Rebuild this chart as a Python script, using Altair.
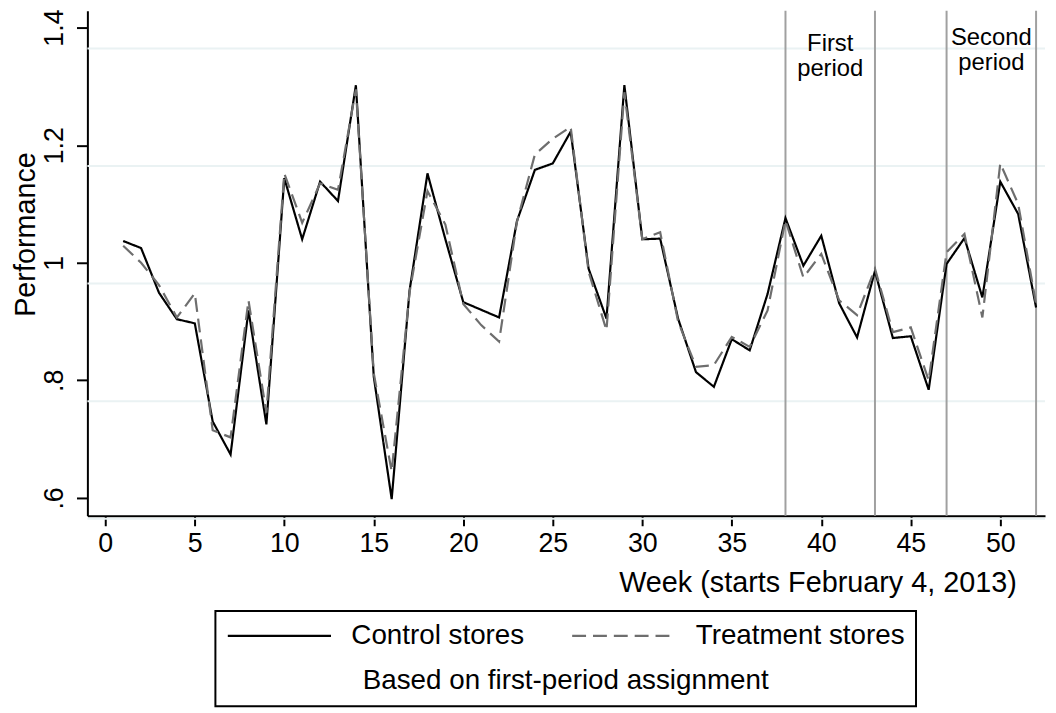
import altair as alt
import pandas as pd

weeks = list(range(1, 53))
control = [1.037, 1.025, 0.949, 0.904, 0.897, 0.730, 0.674, 0.919, 0.725, 1.144,
           1.040, 1.138, 1.105, 1.302, 0.806, 0.598, 0.953, 1.152, 1.040, 0.933,
           0.920, 0.907, 1.071, 1.158, 1.169, 1.223, 0.990, 0.905, 1.302, 1.040,
           1.041, 0.905, 0.814, 0.789, 0.870, 0.851, 0.947, 1.076, 0.995, 1.046,
           0.931, 0.873, 0.986, 0.872, 0.875, 0.784, 0.998, 1.042, 0.941, 1.138,
           1.083, 0.924]
treatment = [1.029, 1.000, 0.962, 0.907, 0.948, 0.715, 0.703, 0.936, 0.745, 1.152,
             1.068, 1.135, 1.124, 1.295, 0.812, 0.645, 0.950, 1.122, 1.065, 0.930,
             0.894, 0.866, 1.070, 1.184, 1.211, 1.231, 0.985, 0.885, 1.290, 1.040,
             1.052, 0.900, 0.823, 0.826, 0.874, 0.857, 0.919, 1.072, 0.975, 1.015,
             0.936, 0.911, 0.990, 0.882, 0.890, 0.800, 1.018, 1.049, 0.907, 1.169,
             1.100, 0.930]
series_names = ["Control stores", "Treatment stores"]
x_ticks = [0, 5, 10, 15, 20, 25, 30, 35, 40, 45, 50]
y_ticks = [0.6, 0.8, 1.0, 1.2, 1.4]
y_tick_labels = [".6", ".8", "1", "1.2", "1.4"]
grid_values = [1.3646, 1.1646, 0.9646, 0.7646, 0.5646]
period_bounds = [38, 43, 47, 52]
period_label_x = [40.5, 49.5]
period_label_y = [1.3610, 1.3712]
period_labels = [["First", "period"], ["Second", "period"]]

FONT = "Liberation Sans"

df = pd.DataFrame({
    "week": weeks * 2,
    "value": control + treatment,
    "group": [series_names[0]] * len(weeks) + [series_names[1]] * len(weeks),
})
grid_df = pd.DataFrame({"y": grid_values})
bounds_df = pd.DataFrame({"x": period_bounds})
lab_df = pd.DataFrame({"x": period_label_x, "y": period_label_y, "t": period_labels})

label_expr = " : ".join(
    f"datum.value > {v - 0.01} && datum.value < {v + 0.01} ? '{l}'"
    for v, l in zip(y_ticks, y_tick_labels)
) + " : ''"

xscale = alt.Scale(domain=[-1, 52.5], nice=False, zero=False)
yscale = alt.Scale(domain=[0.5696, 1.4287], nice=False, zero=False)

grid = alt.Chart(grid_df).mark_rule(color="#EAF2F3", strokeWidth=2, clip=False).encode(
    y=alt.Y("y:Q", scale=yscale)
)
bounds = alt.Chart(bounds_df).mark_rule(color="#A0A0A0", strokeWidth=2).encode(
    x=alt.X("x:Q", scale=xscale)
)
labels = alt.Chart(lab_df).mark_text(
    font=FONT, fontSize=24, lineHeight=25.5, align="center", baseline="alphabetic", color="black"
).encode(
    x=alt.X("x:Q", scale=xscale),
    y=alt.Y("y:Q", scale=yscale),
    text="t",
)

lines = alt.Chart(df).mark_line(strokeWidth=2.2).encode(
    x=alt.X("week:Q", scale=xscale,
            axis=alt.Axis(values=x_ticks, title="Week (starts February 4, 2013)",
                          titleX=936, titleY=76, titleAlign="right", titleBaseline="alphabetic",
                          titleAngle=0, titleFontSize=29,
                          labelBaseline="alphabetic", labelPadding=26, tickSize=10)),
    y=alt.Y("value:Q", scale=yscale,
            axis=alt.Axis(values=y_ticks, title="Performance", labelExpr=label_expr,
                          titleX=-53, titleY=225, titleAngle=270, titleAlign="center",
                          titleBaseline="alphabetic", titleFontSize=29,
                          labelAngle=270, labelAlign="center", labelBaseline="alphabetic",
                          labelPadding=14, tickSize=11)),
    color=alt.Color("group:N", scale=alt.Scale(domain=series_names, range=["black", "#6E6E6E"]),
                    legend=alt.Legend(title="Based on first-period assignment")),
    strokeDash=alt.StrokeDash("group:N",
                              scale=alt.Scale(domain=series_names, range=[[1, 0], [14, 7]]),
                              legend=alt.Legend(title="Based on first-period assignment")),
)

chart = alt.layer(grid, bounds, lines, labels).properties(
    width=965, height=509,
    autosize=alt.AutoSizeParams(type="none"),
    padding={"left": 80, "top": 0, "right": 3, "bottom": 200},
).configure_view(stroke=None).configure_axis(
    grid=False, domainColor="black", domainWidth=2, tickColor="black", tickWidth=2,
    labelFont=FONT, labelFontSize=27, labelColor="black",
    titleFont=FONT, titleFontSize=28, titleColor="black", titleFontWeight="normal",
).configure_legend(
    orient="none", legendX=129, legendY=605, direction="horizontal",
    padding=11, strokeColor="black", strokeWidth=2,
    symbolType="stroke", symbolSize=10816, symbolStrokeWidth=2.2, clipHeight=28,
    labelOffset=19, columnPadding=46,
    labelFont=FONT, labelFontSize=28, labelColor="black", labelLimit=0,
    titleFont=FONT, titleFontSize=28, titleColor="black", titleFontWeight="normal",
    titleOrient="bottom", titleAnchor="middle", titlePadding=18, titleLimit=0,
)

chart.save("out.html", embed_options={"renderer": "svg", "actions": False})
